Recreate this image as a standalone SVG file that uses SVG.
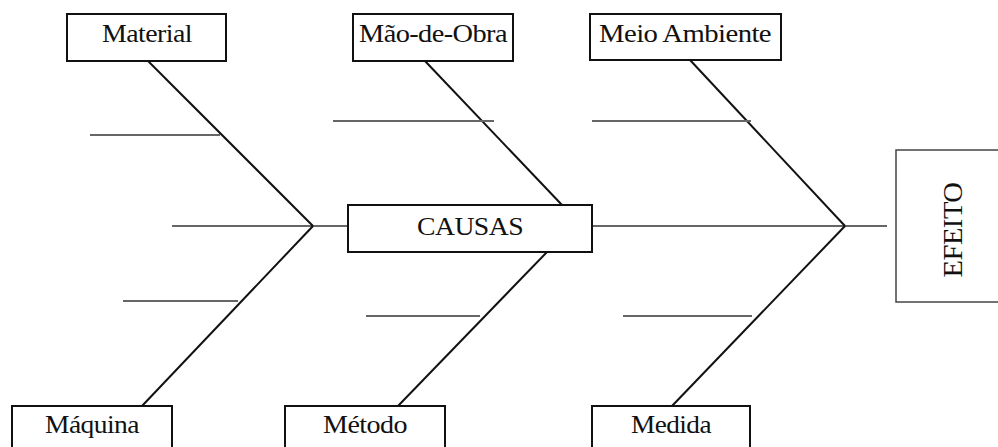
<svg xmlns="http://www.w3.org/2000/svg" width="998" height="447" viewBox="0 0 998 447">
<style>
.box{fill:#fff;stroke:#111;stroke-width:2}
.efbox{fill:#fff;stroke:#444;stroke-width:1.5}
.main{stroke:#111;stroke-width:2;fill:none}
.spine{stroke:#333;stroke-width:1.5;fill:none}
.branch{stroke:#666;stroke-width:1.8;fill:none}
text{font-family:"Liberation Serif","Times New Roman",serif;fill:#111;text-anchor:middle;letter-spacing:-0.5px}
.lbl{font-size:25px}
</style>
<rect width="998" height="447" fill="#fff"/>
<g id="connectors">
<line class="spine" x1="172" y1="226" x2="348" y2="226"/>
<line class="spine" x1="592" y1="226" x2="887" y2="226"/>
<line class="main" x1="148" y1="61" x2="313" y2="226"/>
<line class="main" x1="313" y1="226" x2="142" y2="406"/>
<line class="main" x1="425" y1="61" x2="562" y2="205"/>
<line class="main" x1="547" y1="252" x2="398" y2="406"/>
<line class="main" x1="690" y1="60" x2="845" y2="226"/>
<line class="main" x1="845" y1="226" x2="672" y2="406"/>
<line class="branch" x1="90" y1="135" x2="220" y2="135"/>
<line class="branch" x1="123" y1="301" x2="238" y2="301"/>
<line class="branch" x1="333" y1="121" x2="494" y2="121"/>
<line class="branch" x1="366" y1="316" x2="480" y2="316"/>
<line class="branch" x1="592" y1="121" x2="751" y2="121"/>
<line class="branch" x1="623" y1="316" x2="752" y2="316"/>
</g>
<g id="material">
<rect class="box" x="67" y="14" width="159" height="47"/>
<text class="lbl" x="147" y="42" textLength="90" lengthAdjust="spacingAndGlyphs">Material</text>
</g>
<g id="mao-de-obra">
<rect class="box" x="353" y="14" width="160" height="47"/>
<text class="lbl" x="433" y="42" textLength="148" lengthAdjust="spacingAndGlyphs">Mão-de-Obra</text>
</g>
<g id="meio-ambiente">
<rect class="box" x="590" y="14" width="191" height="46"/>
<text class="lbl" x="685" y="42" textLength="172" lengthAdjust="spacingAndGlyphs">Meio Ambiente</text>
</g>
<g id="causas">
<rect class="box" x="348" y="205" width="244" height="47"/>
<text class="lbl" x="470" y="235" textLength="106" lengthAdjust="spacingAndGlyphs">CAUSAS</text>
</g>
<g id="efeito">
<rect class="efbox" x="896" y="150" width="110" height="152"/>
<text x="952" y="230" font-size="28" transform="rotate(-90 952 230)" dy="10" textLength="95" lengthAdjust="spacingAndGlyphs">EFEITO</text>
</g>
<g id="maquina">
<rect class="box" x="12" y="406" width="160" height="50"/>
<text class="lbl" x="92" y="433" textLength="94" lengthAdjust="spacingAndGlyphs">Máquina</text>
</g>
<g id="metodo">
<rect class="box" x="285" y="406" width="160" height="50"/>
<text class="lbl" x="365" y="433" textLength="84" lengthAdjust="spacingAndGlyphs">Método</text>
</g>
<g id="medida">
<rect class="box" x="592" y="406" width="158" height="50"/>
<text class="lbl" x="671" y="433" textLength="80" lengthAdjust="spacingAndGlyphs">Medida</text>
</g>
</svg>
